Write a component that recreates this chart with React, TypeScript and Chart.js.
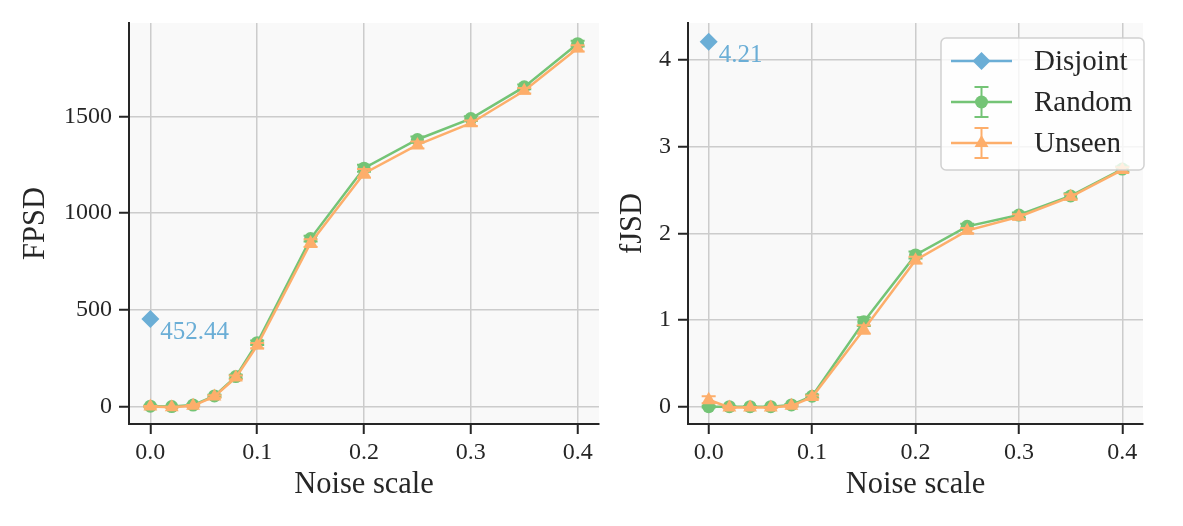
import { useEffect, useRef } from "react";
import { Chart, registerables } from "chart.js";
import { drawPoint } from "chart.js/helpers";

Chart.register(...registerables);

// noise scales shared by both panels
const noiseScales = [0, 0.02, 0.04, 0.06, 0.08, 0.1, 0.15, 0.2, 0.25, 0.3, 0.35, 0.4];
const xTicks = [0, 0.1, 0.2, 0.3, 0.4];

// FPSD panel
const fpsdDisjoint = [452.44];
const fpsdRandom = [2, 0, 8, 55, 155, 330, 868, 1232, 1380, 1488, 1652, 1875];
const fpsdRandomErr = [3, 2, 3, 6, 10, 12, 15, 18, 15, 12, 12, 15];
const fpsdUnseen = [0, -3, 4, 52, 150, 315, 845, 1205, 1352, 1464, 1632, 1851];
const fpsdUnseenErr = [3, 2, 4, 7, 10, 14, 20, 22, 18, 14, 14, 16];
const fpsdTicks = [0, 500, 1000, 1500];

// fJSD panel
const fjsdDisjoint = [4.21];
const fjsdRandom = [0.0, 0.0, 0.0, 0.0, 0.02, 0.12, 0.98, 1.75, 2.08, 2.21, 2.43, 2.74];
const fjsdRandomErr = [0.01, 0.005, 0.005, 0.005, 0.01, 0.02, 0.05, 0.04, 0.03, 0.03, 0.03, 0.03];
const fjsdUnseen = [0.08, -0.01, -0.01, -0.01, 0.01, 0.11, 0.89, 1.69, 2.03, 2.19, 2.42, 2.73];
const fjsdUnseenErr = [0.04, 0.005, 0.005, 0.005, 0.01, 0.02, 0.05, 0.04, 0.03, 0.03, 0.03, 0.03];
const fjsdTicks = [0, 1, 2, 3, 4];

const seriesNames = ["Disjoint", "Random", "Unseen"];

const BLUE = "#6baed6";
const GREEN = "#74c476";
const ORANGE = "#fdae6b";
const INK = "#262626";
const GRID = "#cccccc";
const FONT = "'Liberation Serif', 'Times New Roman', serif";

const toPoints = (ys: number[]) => ys.map((y, i) => ({ x: noiseScales[i], y }));

const backgroundPlugin = {
  id: "axesFace",
  beforeDraw(chart: any) {
    const { ctx, chartArea } = chart;
    ctx.save();
    ctx.fillStyle = "#f9f9f9";
    ctx.fillRect(chartArea.left, chartArea.top, chartArea.width, chartArea.height);
    ctx.restore();
  },
};

const errorBarPlugin = {
  id: "errorBars",
  beforeDatasetDraw(chart: any, args: any) {
    const ds = chart.data.datasets[args.index];
    if (!ds.errors) return;
    const { ctx } = chart;
    const yScale = chart.scales.y;
    ctx.save();
    ctx.strokeStyle = ds.borderColor;
    ctx.lineWidth = 2;
    args.meta.data.forEach((pt: any, i: number) => {
      const v = ds.data[i].y;
      const e = ds.errors[i];
      const top = yScale.getPixelForValue(v + e);
      const bot = yScale.getPixelForValue(v - e);
      ctx.beginPath();
      ctx.moveTo(pt.x, top);
      ctx.lineTo(pt.x, bot);
      ctx.moveTo(pt.x - 7, top);
      ctx.lineTo(pt.x + 7, top);
      ctx.moveTo(pt.x - 7, bot);
      ctx.lineTo(pt.x + 7, bot);
      ctx.stroke();
    });
    ctx.restore();
  },
};

const notePlugin = {
  id: "valueNote",
  afterDatasetsDraw(chart: any) {
    const { ctx } = chart;
    chart.data.datasets.forEach((ds: any, i: number) => {
      if (!ds.note) return;
      const pt = chart.getDatasetMeta(i).data[0];
      ctx.save();
      ctx.font = `25px ${FONT}`;
      ctx.fillStyle = ds.borderColor;
      ctx.textAlign = "left";
      ctx.textBaseline = "alphabetic";
      ctx.fillText(ds.data[0].y.toFixed(2), pt.x + 10, pt.y + 20);
      ctx.restore();
    });
  },
};

const legendPlugin = {
  id: "boxLegend",
  afterDraw(chart: any) {
    const { ctx, chartArea } = chart;
    const w = 203;
    const h = 132;
    const x0 = chartArea.right + 1 - w;
    const y0 = chartArea.top + 15;
    ctx.save();
    ctx.beginPath();
    ctx.roundRect(x0, y0, w, h, 5);
    ctx.fillStyle = "rgba(255,255,255,0.8)";
    ctx.fill();
    ctx.strokeStyle = "rgba(204,204,204,0.9)";
    ctx.lineWidth = 1.5;
    ctx.stroke();
    chart.data.datasets.forEach((ds: any, i: number) => {
      const cy = y0 + 23 + i * 41;
      const hx0 = x0 + 10;
      const hx1 = x0 + 71;
      const cx = (hx0 + hx1) / 2;
      ctx.strokeStyle = ds.borderColor;
      ctx.fillStyle = ds.borderColor;
      ctx.lineWidth = 2.5;
      ctx.beginPath();
      ctx.moveTo(hx0, cy);
      ctx.lineTo(hx1, cy);
      ctx.stroke();
      if (ds.errors) {
        ctx.lineWidth = 2;
        ctx.beginPath();
        ctx.moveTo(cx, cy - 15);
        ctx.lineTo(cx, cy + 15);
        ctx.moveTo(cx - 7, cy - 15);
        ctx.lineTo(cx + 7, cy - 15);
        ctx.moveTo(cx - 7, cy + 15);
        ctx.lineTo(cx + 7, cy + 15);
        ctx.stroke();
      }
      drawPoint(ctx, { pointStyle: ds.pointStyle, radius: ds.pointRadius, rotation: 0, borderWidth: 0 }, cx, cy);
      ctx.font = `29px ${FONT}`;
      ctx.fillStyle = INK;
      ctx.textAlign = "left";
      ctx.textBaseline = "middle";
      ctx.fillText(ds.label, x0 + 93, cy + 1);
    });
    ctx.restore();
  },
};

interface PanelProps {
  left: number;
  width: number;
  axisWidth: number;
  padRight: number;
  titlePad: number;
  yLabel: string;
  yMin: number;
  yMax: number;
  yTicks: number[];
  disjoint: number[];
  random: number[];
  randomErr: number[];
  unseen: number[];
  unseenErr: number[];
  legend?: boolean;
}

const Panel = (p: PanelProps) => {
  const canvasRef = useRef<HTMLCanvasElement | null>(null);

  useEffect(() => {
    const ctx = canvasRef.current?.getContext("2d");
    if (!ctx) return;

    const tickFont = { family: FONT, size: 24 };
    const labelFont = { family: FONT, size: 30.5 };

    const chart = new Chart(ctx, {
      type: "line",
      data: {
        datasets: [
          {
            label: seriesNames[0],
            data: toPoints(p.disjoint),
            borderColor: BLUE,
            backgroundColor: BLUE,
            pointBackgroundColor: BLUE,
            pointStyle: "rectRot",
            pointRadius: 9,
            pointBorderWidth: 0,
            borderWidth: 2.5,
            order: 2,
            note: true,
          },
          {
            label: seriesNames[1],
            data: toPoints(p.random),
            errors: p.randomErr,
            borderColor: GREEN,
            backgroundColor: GREEN,
            pointBackgroundColor: GREEN,
            pointStyle: "circle",
            pointRadius: 6.5,
            pointBorderWidth: 0,
            borderWidth: 2.5,
            order: 1,
          },
          {
            label: seriesNames[2],
            data: toPoints(p.unseen),
            errors: p.unseenErr,
            borderColor: ORANGE,
            backgroundColor: ORANGE,
            pointBackgroundColor: ORANGE,
            pointStyle: "triangle",
            pointRadius: 8,
            pointBorderWidth: 0,
            borderWidth: 2.5,
            order: 0,
          },
        ] as any,
      },
      options: {
        animation: false,
        responsive: false,
        events: [],
        layout: { padding: { top: 23, right: p.padRight, left: 0, bottom: 0 } },
        plugins: { legend: { display: false }, tooltip: { enabled: false } },
        scales: {
          x: {
            type: "linear",
            min: -0.02,
            max: 0.42,
            afterBuildTicks: (s: any) => {
              s.ticks = xTicks.map((v) => ({ value: v }));
            },
            afterFit: (s: any) => {
              s.height = 102;
            },
            grid: { color: GRID, lineWidth: 1.5, tickColor: INK, tickLength: 10, tickWidth: 2 },
            border: { color: INK, width: 2 },
            ticks: {
              font: tickFont,
              color: INK,
              padding: 4,
              maxRotation: 0,
              autoSkip: false,
              callback: (v: any) => Number(v).toFixed(1),
            },
            title: {
              display: true,
              text: "Noise scale",
              font: labelFont,
              color: INK,
              padding: { top: 0, bottom: 23 },
            },
          },
          y: {
            type: "linear",
            min: p.yMin,
            max: p.yMax,
            afterBuildTicks: (s: any) => {
              s.ticks = p.yTicks.map((v) => ({ value: v }));
            },
            afterFit: (s: any) => {
              s.width = p.axisWidth;
            },
            grid: { color: GRID, lineWidth: 1.5, tickColor: INK, tickLength: 10, tickWidth: 2 },
            border: { color: INK, width: 2 },
            ticks: {
              font: tickFont,
              color: INK,
              padding: 7,
              autoSkip: false,
              callback: (v: any) => String(v),
            },
            title: {
              display: true,
              text: p.yLabel,
              font: labelFont,
              color: INK,
              padding: { top: p.titlePad, bottom: 0 },
            },
          },
        },
      } as any,
      plugins: p.legend
        ? [backgroundPlugin, errorBarPlugin, notePlugin, legendPlugin]
        : [backgroundPlugin, errorBarPlugin, notePlugin],
    });

    return () => {
      chart.destroy();
    };
  }, [p]);

  return (
    <canvas
      ref={canvasRef}
      width={p.width}
      height={526}
      style={{ position: "absolute", left: p.left, top: 0, width: p.width, height: 526 }}
    />
  );
};

const App = () => {
  return (
    <div style={{ position: "fixed", left: 0, top: 0, width: 1183, height: 526, background: "#fff" }}>
      <Panel
        left={0}
        width={610}
        axisWidth={129}
        padRight={11}
        titlePad={18}
        yLabel="FPSD"
        yMin={-90}
        yMax={1982}
        yTicks={fpsdTicks}
        disjoint={fpsdDisjoint}
        random={fpsdRandom}
        randomErr={fpsdRandomErr}
        unseen={fpsdUnseen}
        unseenErr={fpsdUnseenErr}
      />
      <Panel
        left={610}
        width={573}
        axisWidth={78}
        padRight={40}
        titlePad={5}
        yLabel="fJSD"
        yMin={-0.2}
        yMax={4.425}
        yTicks={fjsdTicks}
        disjoint={fjsdDisjoint}
        random={fjsdRandom}
        randomErr={fjsdRandomErr}
        unseen={fjsdUnseen}
        unseenErr={fjsdUnseenErr}
        legend
      />
    </div>
  );
};

export default App;
